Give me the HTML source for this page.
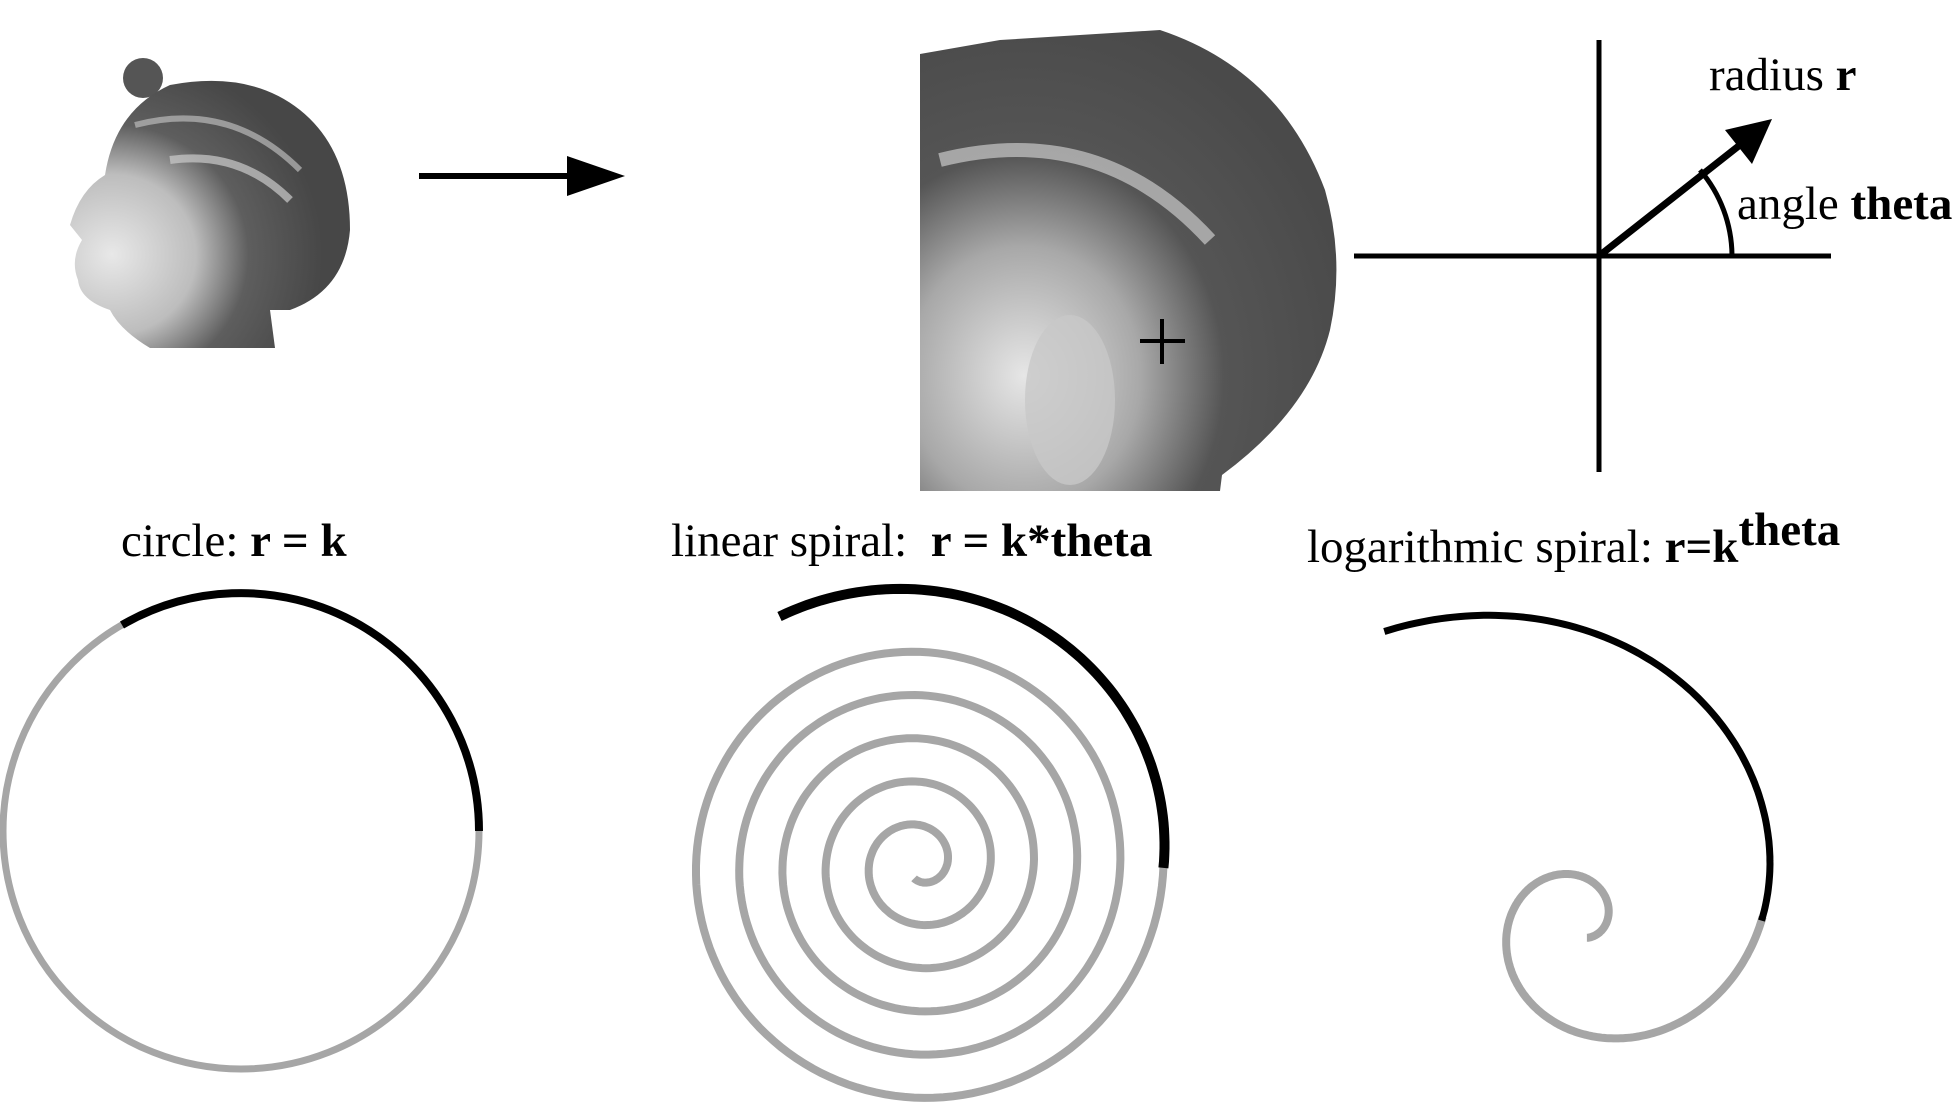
<!DOCTYPE html>
<html><head><meta charset="utf-8"><style>
html,body{margin:0;padding:0;background:#fff;}
svg{display:block}
text{font-family:"Liberation Serif",serif;fill:#000}
</style></head><body>
<svg id="s" width="1956" height="1108" viewBox="0 0 1956 1108" xmlns="http://www.w3.org/2000/svg">
<defs>
<radialGradient id="g1" cx="0.25" cy="0.75" r="0.8">
<stop offset="0" stop-color="#e6e6e6"/><stop offset="0.35" stop-color="#a8a8a8"/><stop offset="0.6" stop-color="#555"/><stop offset="1" stop-color="#4a4a4a"/>
</radialGradient>
<radialGradient id="g2" cx="0.15" cy="0.65" r="0.75">
<stop offset="0" stop-color="#e8e8e8"/><stop offset="0.4" stop-color="#bdbdbd"/><stop offset="0.65" stop-color="#5e5e5e"/><stop offset="1" stop-color="#474747"/>
</radialGradient>
</defs>
<circle cx="143" cy="78" r="20" fill="#555"/>
<path d="M70,225 Q80,190 105,175 Q115,110 170,85 Q250,70 300,110 Q350,150 350,230 Q345,290 290,310 L270,310 L275,348 L150,348 Q120,330 110,310 Q80,300 78,280 Q70,260 82,240 Z" fill="url(#g2)"/>
<path d="M135,125 Q230,100 300,170" stroke="#bbb" stroke-width="6" fill="none" opacity="0.7"/>
<path d="M170,160 Q240,150 290,200" stroke="#ccc" stroke-width="8" fill="none" opacity="0.7"/>
<line x1="419" y1="176" x2="575" y2="176" stroke="#000" stroke-width="6"/>
<polygon points="567,156 625,176 567,196" fill="#000"/>
<path d="M920,54 L1000,40 L1160,30 Q1280,70 1325,190 Q1345,260 1330,330 Q1310,410 1222,475 L1220,491 L920,491 Z" fill="url(#g1)"/>
<path d="M940,160 Q1100,120 1210,240" stroke="#ddd" stroke-width="14" fill="none" opacity="0.6"/>
<ellipse cx="1070" cy="400" rx="45" ry="85" fill="#c8c8c8" opacity="0.8"/>
<line x1="1140" y1="341" x2="1185" y2="341" stroke="#000" stroke-width="4"/>
<line x1="1162" y1="319" x2="1162" y2="364" stroke="#000" stroke-width="4"/>
<line x1="1599" y1="40" x2="1599" y2="472" stroke="#000" stroke-width="5"/>
<line x1="1354" y1="256" x2="1831" y2="256" stroke="#000" stroke-width="5"/>
<line x1="1599" y1="256" x2="1745" y2="141" stroke="#000" stroke-width="7"/>
<polygon points="1772,119 1752,164 1725,130" fill="#000"/>
<path d="M1732,256 A133,133 0 0 0 1700,170" stroke="#000" stroke-width="5" fill="none"/>
<text x="1709" y="90" font-size="47">radius <tspan font-weight="bold">r</tspan></text>
<text x="1737" y="219" font-size="47">angle <tspan font-weight="bold">theta</tspan></text>
<text x="121" y="556" font-size="47">circle: <tspan font-weight="bold">r = k</tspan></text>
<text x="671" y="556" font-size="47" xml:space="preserve">linear spiral:  <tspan font-weight="bold">r = k*theta</tspan></text>
<text x="1307" y="562" font-size="47">logarithmic spiral: <tspan font-weight="bold">r=k</tspan><tspan font-weight="bold" dy="-17">theta</tspan></text>
<circle cx="241" cy="831" r="238" fill="none" stroke="#a6a6a6" stroke-width="7"/>
<path d="M122,625 A238,238 0 0 1 479,831" fill="none" stroke="#000" stroke-width="8"/>
<path id="lin" fill="none" stroke="#a6a6a6" stroke-width="8"/>
<path id="linb" fill="none" stroke="#000" stroke-width="10"/>
<path id="log" fill="none" stroke="#a6a6a6" stroke-width="8"/>
<path id="logb" fill="none" stroke="#000" stroke-width="7"/>
</svg>
<script>
function pth(f,a,b,n){var d='';for(var i=0;i<=n;i++){var t=a+(b-a)*i/n;var p=f(t);d+=(i?'L':'M')+p[0].toFixed(1)+','+p[1].toFixed(1);}return d;}
var cx=919,cy=864,b=6.59,s=1.045;
function lin(t){var r=b*t*s,ps=t-4.1;return [cx+r*Math.cos(ps),cy-r*Math.sin(ps)];}
function linB(t){var r=b*t*s+(t-35.5)*12,ps=t-4.1;return [cx+r*Math.cos(ps),cy-r*Math.sin(ps)];}
document.getElementById('lin').setAttribute('d',pth(lin,2.2,35.55,800));
document.getElementById('linb').setAttribute('d',pth(linB,35.5,37.6,80));
var lx=1580,ly=920;
function lg(ps){var r=0.97*72.8*Math.exp(0.3008*(ps-Math.PI));return [lx+r*Math.cos(ps),ly-r*Math.sin(ps)];}
document.getElementById('log').setAttribute('d',pth(lg,-1.2,6.3,400));
document.getElementById('logb').setAttribute('d',pth(lg,6.28,8.45,120));
</script>
</body></html>
